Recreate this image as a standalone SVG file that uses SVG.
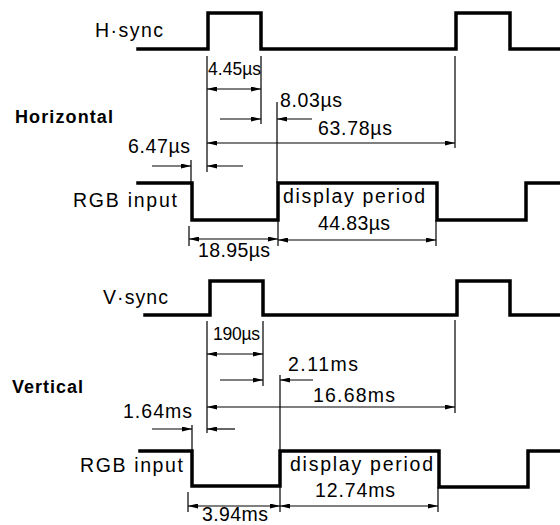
<svg xmlns="http://www.w3.org/2000/svg" width="560" height="525" viewBox="0 0 560 525">
<style>
.wave{fill:none;stroke:#000;stroke-width:3.5;stroke-linejoin:miter;stroke-linecap:square}
.ext{fill:none;stroke:#000;stroke-width:1.2}
.dim{fill:none;stroke:#000;stroke-width:1.2;marker-end:url(#ah)}
.dim2{fill:none;stroke:#000;stroke-width:1.2;marker-start:url(#ah);marker-end:url(#ah)}
text{font-family:"Liberation Sans",Arial,Helvetica,sans-serif;fill:#000}
.t{font-size:19.5px}
.s{font-size:17.5px}
.b{font-size:18px;font-weight:bold}
</style>
<defs>
<marker id="ah" viewBox="0 0 10 5" refX="10" refY="2.5" markerWidth="10" markerHeight="5" markerUnits="userSpaceOnUse" orient="auto-start-reverse">
<path d="M0,0 L10,2.5 L0,5 Z" fill="#000"/>
</marker>
</defs>
<rect width="560" height="525" fill="#fff"/>

<g id="horizontal">
  <g id="h-sync">
    <path class="wave" d="M138,49 H208 V13 H261 V49 H456 V13 H510 V49 H560"/>
    <text class="t" x="95" y="37" textLength="68" lengthAdjust="spacing">H·sync</text>
  </g>
  <text id="label-horizontal" class="b" x="15" y="123" textLength="98" lengthAdjust="spacing">Horizontal</text>
  <g id="h-rgb">
    <path class="wave" d="M138,183 H192 V220 H278 V183 H437 V220 H526 V183 H560"/>
    <text class="t" x="73" y="207" textLength="104" lengthAdjust="spacing">RGB input</text>
    <text class="t" x="283" y="203" textLength="142" lengthAdjust="spacing">display period</text>
    <text class="t" x="318" y="230" textLength="72" lengthAdjust="spacing">44.83µs</text>
  </g>
  <g id="h-dimensions">
    <path class="ext" d="M207,56 V172 M261,56 V124 M455,56 V148 M277,102 V183 M191,160 V183 M189,226 V246 M278,220 V246 M436,220 V246"/>
    <path class="dim2" d="M207,89 H261"/>
    <path class="dim" d="M220,119 H261"/>
    <path class="dim" d="M312,119 H277"/>
    <path class="dim2" d="M207,143 H455"/>
    <path class="dim" d="M152,166 H191"/>
    <path class="dim" d="M243,166 H207"/>
    <path class="dim2" d="M189,239 H278"/>
    <path class="dim2" d="M278,240 H436"/>
    <text class="s" x="208" y="75" textLength="53" lengthAdjust="spacing">4.45µs</text>
    <text class="t" x="280" y="107" textLength="62" lengthAdjust="spacing">8.03µs</text>
    <text class="t" x="318" y="135" textLength="74" lengthAdjust="spacing">63.78µs</text>
    <text class="t" x="128" y="153" textLength="62" lengthAdjust="spacing">6.47µs</text>
    <text class="t" x="198" y="257" textLength="72" lengthAdjust="spacing">18.95µs</text>
  </g>
</g>

<g id="vertical">
  <g id="v-sync">
    <path class="wave" d="M145,315 H210 V281 H263 V315 H457 V281 H510 V315 H560"/>
    <text class="t" x="103" y="304" textLength="65" lengthAdjust="spacing">V·sync</text>
  </g>
  <text id="label-vertical" class="b" x="12" y="393" textLength="71" lengthAdjust="spacing">Vertical</text>
  <g id="v-rgb">
    <path class="wave" d="M140,451 H192 V486 H280 V451 H439 V487 H528 V451 H560"/>
    <text class="t" x="80" y="472" textLength="103" lengthAdjust="spacing">RGB input</text>
    <text class="t" x="290" y="471" textLength="143" lengthAdjust="spacing">display period</text>
    <text class="t" x="315" y="497" textLength="80" lengthAdjust="spacing">12.74ms</text>
  </g>
  <g id="v-dimensions">
    <path class="ext" d="M207,321 V433 M263,321 V386 M455,320 V413 M280,375 V451 M192,425 V451 M188,492 V512 M280,486 V512 M438,487 V512"/>
    <path class="dim2" d="M207,354 H263"/>
    <path class="dim" d="M220,380 H263"/>
    <path class="dim" d="M313,380 H280"/>
    <path class="dim2" d="M207,407 H455"/>
    <path class="dim" d="M152,429 H192"/>
    <path class="dim" d="M235,429 H207"/>
    <path class="dim2" d="M188,506 H280"/>
    <path class="dim2" d="M280,506 H438"/>
    <text class="s" x="213" y="340" textLength="47" lengthAdjust="spacing">190µs</text>
    <text class="t" x="288" y="371" textLength="70" lengthAdjust="spacing">2.11ms</text>
    <text class="t" x="313" y="402" textLength="82" lengthAdjust="spacing">16.68ms</text>
    <text class="t" x="123" y="418" textLength="69" lengthAdjust="spacing">1.64ms</text>
    <text class="t" x="202" y="521" textLength="66" lengthAdjust="spacing">3.94ms</text>
  </g>
</g>
</svg>
